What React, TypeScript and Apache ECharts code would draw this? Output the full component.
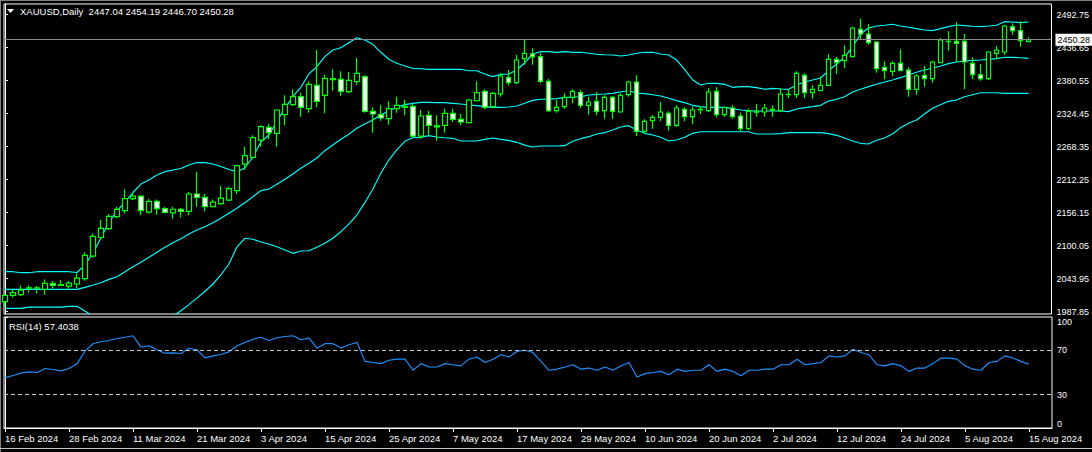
import React, { useEffect, useRef } from "react";
import * as echarts from "echarts";

const tradingDays: [string, number[]][] = [
  ["Feb", [16, 19, 20, 21, 22, 23, 26, 27, 28, 29]],
  ["Mar", [1, 4, 5, 6, 7, 8, 11, 12, 13, 14, 15, 18, 19, 20, 21, 22, 25, 26, 27, 28]],
  ["Apr", [1, 2, 3, 4, 5, 8, 9, 10, 11, 12, 15, 16, 17, 18, 19, 22, 23, 24, 25, 26, 29, 30]],
  ["May", [1, 2, 3, 6, 7, 8, 9, 10, 13, 14, 15, 16, 17, 20, 21, 22, 23, 24, 27, 28, 29, 30, 31]],
  ["Jun", [3, 4, 5, 6, 7, 10, 11, 12, 13, 14, 17, 18, 19, 20, 21, 24, 25, 26, 27, 28]],
  ["Jul", [1, 2, 3, 4, 5, 8, 9, 10, 11, 12, 15, 16, 17, 18, 19, 22, 23, 24, 25, 26, 29, 30, 31]],
  ["Aug", [1, 2, 5, 6, 7, 8, 9, 12, 13, 14, 15]],
];
const dates: string[] = tradingDays.flatMap(([m, ds]) => ds.map((d) => `${d} ${m} 2024`));

const opens = [
  2005, 2015.6, 2017, 2028, 2028, 2025.8, 2036, 2032.5, 2031.5, 2035,
  2044, 2082.5, 2114, 2129, 2149.4, 2159.6, 2180, 2184.5, 2157.3, 2175.4,
  2163, 2156, 2162, 2158.5, 2188, 2182.3, 2166.4, 2171.5, 2177.7, 2193.6,
  2238.9, 2250.3, 2279.7, 2301.3, 2291.1, 2322.8, 2339.8, 2353.4, 2333, 2372.7,
  2355.7, 2382.5, 2382.9, 2361.9, 2378.9, 2387.4, 2328.5, 2322.8, 2316, 2333,
  2337, 2337, 2286.5, 2321.7, 2304, 2304.7, 2325.1, 2314.9, 2309.2, 2346.6,
  2362.5, 2336.4, 2358, 2386.3, 2377.2, 2418, 2426, 2421.4, 2379.5, 2329.6,
  2336.4, 2352.3, 2360.2, 2338.7, 2345.5, 2329.6, 2352.3, 2327.3, 2356.8, 2378.3,
  2294.5, 2312.6, 2318.3, 2325.1, 2304.7, 2331.9, 2319.4, 2331, 2329.6, 2362.5,
  2322.8, 2334.1, 2320.5, 2299, 2328, 2327.3, 2330, 2329.6, 2357, 2356.8,
  2389.7, 2360.2, 2363.6, 2372.7, 2416.9, 2414.6, 2421.4, 2467.9, 2459.9, 2446.3,
  2403.3, 2396.5, 2410.1, 2398.7, 2365.9, 2389.7, 2384, 2411.2, 2447.5, 2447.5,
  2447.5, 2410.1, 2390.8, 2384, 2427, 2429.3, 2472.4, 2465.6, 2447.04,
];
const highs = [
  2016.5, 2024.7, 2032.6, 2032.6, 2031.5, 2042.8, 2040, 2041.7, 2040, 2053,
  2089, 2121, 2143.7, 2154, 2166.4, 2195.9, 2190, 2186, 2180, 2178.8,
  2166.4, 2166.4, 2164, 2191.3, 2225.3, 2188, 2178.8, 2201.5, 2200.4, 2237.8,
  2268.4, 2287.7, 2304.7, 2306.9, 2331.9, 2355.7, 2365.9, 2360.2, 2379.5, 2432.7,
  2390.8, 2399.9, 2396.5, 2395.3, 2419.1, 2389.7, 2335.3, 2338.7, 2345.5, 2353.4,
  2347.7, 2340.9, 2330.7, 2329.6, 2321.7, 2333, 2333, 2324, 2350, 2379.5,
  2365.9, 2361.3, 2393.1, 2398.7, 2424.8, 2450.9, 2435.6, 2427, 2384, 2347.7,
  2359.1, 2365.9, 2364.7, 2353.4, 2361.3, 2355.7, 2354.5, 2359.1, 2380.6, 2389.7,
  2314.9, 2321.7, 2344.3, 2328.5, 2338.7, 2335.3, 2336.4, 2337.5, 2368.1, 2369.3,
  2336.4, 2338.7, 2326.2, 2333, 2340.9, 2340.9, 2338.7, 2368.1, 2365.9, 2396.5,
  2393.1, 2372.7, 2387.4, 2425.9, 2421.4, 2440.7, 2472.4, 2486, 2476.9, 2447.5,
  2413.5, 2413.5, 2433.9, 2403.3, 2391.9, 2405.5, 2414.6, 2453.1, 2464.5, 2480.3,
  2459.9, 2420.3, 2408.9, 2430.5, 2439.5, 2475.8, 2478.1, 2481.5, 2454.19,
];
const lows = [
  1996.4, 2012.2, 2014.5, 2020, 2019, 2016.8, 2027, 2031.5, 2027, 2028,
  2040.6, 2080, 2109.7, 2126.7, 2147, 2155, 2177.7, 2151.7, 2155, 2152.8,
  2155, 2146, 2148, 2151.7, 2166.4, 2158.5, 2165.3, 2169.8, 2175.5, 2187.9,
  2228.7, 2246.9, 2268.4, 2280.9, 2268.4, 2304.7, 2337.5, 2319.4, 2326.2, 2335.3,
  2325.1, 2363.6, 2354.5, 2359.1, 2373.8, 2326.2, 2292.2, 2312.6, 2305.8, 2326.2,
  2321.7, 2284.3, 2282, 2288.8, 2278.6, 2292.2, 2310.3, 2304.7, 2308, 2345.5,
  2331.9, 2334.1, 2353.4, 2372.7, 2374.9, 2407.8, 2407.8, 2376.1, 2327.3, 2326.2,
  2333, 2342.1, 2334.1, 2322.8, 2321.7, 2316, 2316, 2326.2, 2353.4, 2286.5,
  2291.1, 2299, 2311.5, 2295.6, 2302.4, 2311.5, 2306.9, 2324, 2327.3, 2318.3,
  2319.4, 2316, 2294.5, 2296.7, 2319.4, 2319.4, 2319.4, 2327.3, 2351.1, 2351.1,
  2351.1, 2350, 2362.5, 2371.5, 2391.9, 2402.1, 2420.3, 2450.9, 2441.8, 2394.2,
  2382.9, 2388.5, 2396.5, 2353.4, 2356.8, 2370.4, 2377.2, 2410.1, 2431.6, 2412.3,
  2365.9, 2382.9, 2380.6, 2381.7, 2416.9, 2424.8, 2458.8, 2438.4, 2446.7,
];
const closes = [
  2015.6, 2020.2, 2024.7, 2028.5, 2028.5, 2036, 2032.6, 2034, 2036.6, 2045,
  2083.6, 2115.9, 2129.6, 2150, 2161.9, 2180, 2184.5, 2159.6, 2175.4, 2163,
  2156.7, 2162, 2158.5, 2188, 2182.3, 2166.4, 2174.3, 2181.1, 2197, 2236.1,
  2253.1, 2283.7, 2302.4, 2292.2, 2330.7, 2340.4, 2353.4, 2335.3, 2374.4, 2345.5,
  2384.6, 2384, 2362.5, 2381.2, 2393.1, 2328.5, 2323.9, 2317.1, 2333, 2338.7,
  2335, 2286.5, 2320.5, 2304.7, 2302, 2325.1, 2314.9, 2310.3, 2347.7, 2360.2,
  2335.3, 2359.1, 2388.5, 2377.2, 2415.7, 2427, 2421, 2379.5, 2329.6, 2335.3,
  2352.3, 2362.5, 2338.7, 2344.3, 2328.5, 2352.3, 2328.5, 2355.7, 2378.3, 2294.5,
  2311.5, 2318.3, 2327.3, 2304.7, 2334.1, 2319.4, 2330.7, 2332, 2361.3, 2322.8,
  2335.3, 2319.4, 2299, 2328.5, 2327, 2334.1, 2332, 2357.9, 2357.5, 2393.1,
  2360.2, 2365.9, 2372.7, 2416.9, 2411.2, 2423.6, 2470.1, 2459.9, 2445.2, 2401,
  2397.6, 2410.1, 2397.6, 2365.9, 2388.5, 2384, 2412.3, 2449.7, 2447, 2444,
  2412.3, 2390.8, 2384, 2429.3, 2432.7, 2473.5, 2465.6, 2448.6, 2450.28,
];
const bbUpper = [
  2055.9, 2055.9, 2054.2, 2054.2, 2055.9, 2055.9, 2055.9, 2055.9, 2055.9, 2054.5,
  2067.2, 2087.6, 2113.1, 2140.3, 2159, 2174.3, 2190.5, 2204.9, 2211.7, 2220.2,
  2225.9, 2228.8, 2231.3, 2237.2, 2241.5, 2241.2, 2239, 2234.7, 2229.6, 2225.9,
  2232.2, 2250.9, 2276.3, 2288.2, 2310.8, 2333.6, 2353.3, 2369.3, 2392, 2404.4,
  2421.4, 2432.7, 2436.6, 2445.2, 2453.6, 2449.7, 2442.4, 2428.8, 2416.9, 2410.1,
  2405.5, 2401.6, 2400.9, 2399.9, 2399.9, 2399.9, 2399.9, 2399.9, 2397.5, 2397.5,
  2392, 2387.4, 2391.3, 2392, 2398.7, 2411, 2425.9, 2429.9, 2429.9, 2428.8,
  2429.9, 2428.8, 2428.8, 2427.1, 2425.4, 2424.7, 2424.2, 2422.5, 2424.2, 2427.1,
  2428.8, 2428.8, 2425.9, 2424.2, 2415.7, 2399.9, 2381.7, 2373.2, 2376.1, 2376.1,
  2374.4, 2369.3, 2370.4, 2370.4, 2368.7, 2365.9, 2367.6, 2366.4, 2365.9, 2373.2,
  2378.3, 2381.7, 2385.1, 2397.5, 2408.9, 2420.3, 2438.4, 2459.9, 2470.1, 2473.5,
  2474.7, 2476.4, 2473.5, 2471.3, 2469, 2466.7, 2465.6, 2469, 2472.4, 2475.2,
  2474.1, 2473, 2472.4, 2473.5, 2474.7, 2480.9, 2480.3, 2479.2, 2480.3,
];
const bbMiddle = [
  2025.9, 2025.9, 2025.9, 2025.9, 2025.9, 2025.9, 2025.9, 2025.9, 2025.9, 2025.9,
  2029.3, 2033.2, 2037.2, 2042.9, 2047.4, 2055.9, 2064.4, 2071.8, 2080.3, 2088.8,
  2097.3, 2105.2, 2112, 2120, 2126.8, 2132.4, 2139.2, 2146.6, 2155.1, 2163.6,
  2173.2, 2183.4, 2193.6, 2196.5, 2204.4, 2212.9, 2221.9, 2231.6, 2240.2, 2249.2,
  2261.6, 2271.2, 2280.9, 2289.4, 2299.6, 2306.9, 2313.7, 2322.2, 2329.6, 2335.3,
  2339.8, 2342.1, 2343.8, 2343.8, 2343.2, 2343.2, 2342.1, 2340.9, 2339.2, 2338.1,
  2336.4, 2335.3, 2335.3, 2335.9, 2337.5, 2342.1, 2347.1, 2349, 2349, 2350,
  2351.7, 2352.8, 2353.3, 2356.2, 2357.4, 2357.9, 2359.1, 2361.8, 2363.5, 2359.6,
  2358.6, 2356.7, 2354.5, 2350.6, 2346.6, 2343.2, 2338.7, 2336.4, 2335.3, 2335.3,
  2335.3, 2333, 2330.7, 2329.6, 2329.1, 2329.1, 2329.1, 2329.1, 2327.9, 2332.4,
  2334.7, 2336.4, 2338.7, 2346.1, 2348.9, 2353.3, 2361.3, 2365.9, 2370.4, 2374.4,
  2378.3, 2381.7, 2385.7, 2390.2, 2394.8, 2398.7, 2401.6, 2405.5, 2409.5, 2412.3,
  2414.1, 2415.2, 2415.7, 2416.9, 2418, 2420.3, 2420.3, 2419.6, 2418.6,
];
const bbLower = [
  1993.6, 1993.6, 1993.6, 1995.8, 1995.8, 1995.8, 1995.8, 1995.8, 1997, 1997,
  1989.1, 1980, 1961, 1945, 1936, 1938, 1938, 1939, 1949, 1957,
  1969, 1980, 1989.5, 1999.9, 2011, 2022.2, 2035, 2050.3, 2069, 2097.8,
  2112.7, 2111, 2106.3, 2102.9, 2098.3, 2092.7, 2087.1, 2091, 2091.5, 2097.3,
  2104.1, 2112.7, 2123.9, 2136.9, 2152.2, 2173.2, 2196, 2223.1, 2245.7, 2262.8,
  2277.5, 2283.6, 2284.3, 2287.1, 2284.8, 2283.6, 2282.6, 2278.1, 2278.1, 2278.1,
  2280.9, 2283.1, 2280.9, 2279.2, 2275.8, 2271, 2267.9, 2269.6, 2269.6, 2269.6,
  2270.1, 2277.5, 2282, 2285.4, 2289.9, 2292.2, 2296.8, 2301.9, 2304.1, 2296.8,
  2291.1, 2288.2, 2284.3, 2278.1, 2279.7, 2284.3, 2291.1, 2293.8, 2293.8, 2293.8,
  2293.8, 2293.8, 2293.8, 2293.8, 2289.9, 2289.9, 2289.9, 2290.5, 2292.2, 2292.2,
  2292.2, 2292.2, 2292.2, 2290.5, 2287.7, 2283.1, 2278.1, 2274.1, 2272.9, 2279.2,
  2283.1, 2289.9, 2300.7, 2308.1, 2313.7, 2324, 2333.6, 2339.8, 2345.5, 2347.7,
  2353.3, 2356.7, 2360.1, 2360.1, 2360.1, 2359.1, 2359.1, 2359.1, 2359.1,
];
const rsi14 = [
  45.2, 47.3, 49.4, 50.6, 50, 53.6, 52.7, 51.5, 53.6, 57.8,
  69.2, 75.9, 77.7, 78.8, 80.6, 81.8, 83.1, 72.8, 74.1, 70.5,
  67.4, 67.7, 67.1, 71.9, 70.5, 63.2, 65, 66.2, 68.6, 74.1,
  77, 80, 81.8, 78.8, 81.3, 82.4, 83.1, 79.5, 81, 72,
  76, 76, 72, 75, 77, 60, 59, 58, 61, 62,
  62, 52, 58, 55, 55, 58, 57, 56, 62, 64,
  59, 62, 66, 64, 69, 70, 68, 60, 52, 53,
  55, 57, 53, 54, 52, 55, 52, 56, 59, 46,
  49, 50, 51, 48, 53, 51, 52, 52, 57, 51,
  53, 51, 47, 52, 52, 53, 53, 57, 57, 62,
  57, 58, 59, 65, 64, 65, 71, 68, 66, 57,
  56, 58, 56, 51, 54, 54, 58, 63, 63, 62,
  56, 53, 52, 59, 60, 65, 63, 60, 57.4038,
];

const priceTicks = [1987.85, 2043.95, 2100.05, 2156.15, 2212.25, 2268.35, 2324.45, 2380.55, 2436.65, 2492.75];
const dateTickIdx = [0, 8, 16, 24, 32, 40, 48, 56, 64, 72, 80, 88, 96, 104, 112, 120, 128];
const rsiTicks = [0, 30, 70, 100];
const rsiLevels = [70, 30];
const symbolName = "XAUUSD,Daily";
const lastBar = { open: 2447.04, high: 2454.19, low: 2446.7, close: 2450.28 };
const rsiLabel = "RSI(14) 57.4038";

const FONT = "Liberation Sans";
const X_MIN = -0.125;
const X_MAX = 130.875;
const CYAN = "#00ffff";

export default function App() {
  const ref = useRef<HTMLDivElement>(null);
  useEffect(() => {
    document.body.style.margin = "0";
    document.body.style.background = "#000";
    if (!ref.current) return;
    const chart = echarts.init(ref.current, null, { renderer: "svg" });
    const idx = dates.map((_, i) => i);
    const axisWhite = { color: "#ffffff", width: 1 };
    const bandLine = (vals: number[]) => ({
      type: "line", xAxisIndex: 0, yAxisIndex: 0, data: idx.map((i) => [i, vals[i]]),
      symbol: "none", lineStyle: { color: CYAN, width: 1.15 }, z: 2, silent: true,
    });
    const option: any = {
      animation: false,
      backgroundColor: "#000000",
      textStyle: { fontFamily: FONT },
      grid: [
        { left: 4, top: 4, width: 1048, height: 310, show: true, borderColor: "#ffffff", borderWidth: 1, backgroundColor: "#000000" },
        { left: 4, top: 317, width: 1048, height: 111, show: true, borderColor: "#ffffff", borderWidth: 1, backgroundColor: "#000000" },
      ],
      xAxis: [
        { type: "value", gridIndex: 0, min: X_MIN, max: X_MAX, show: false },
        {
          type: "value", gridIndex: 1, min: X_MIN, max: X_MAX, position: "bottom",
          axisLine: { show: true, lineStyle: axisWhite },
          splitLine: { show: false },
          axisTick: { show: true, customValues: dateTickIdx, length: 4, lineStyle: axisWhite },
          axisLabel: {
            customValues: dateTickIdx,
            formatter: (v: number) => dates[Math.round(v)] ?? "",
            color: "#ffffff", fontSize: 9.5, fontFamily: FONT, align: "left", margin: 5,
          },
        },
      ],
      yAxis: [
        {
          type: "value", gridIndex: 0, position: "right", min: 1984, max: 2510.9,
          splitLine: { show: false },
          axisLine: { show: true, lineStyle: axisWhite },
          axisTick: { show: true, customValues: priceTicks, length: 3, lineStyle: axisWhite },
          axisLabel: {
            customValues: priceTicks, formatter: (v: number) => v.toFixed(2),
            color: "#ffffff", fontSize: 9, fontFamily: FONT, margin: 5,
          },
        },
        {
          type: "value", gridIndex: 1, position: "right", min: 0, max: 100,
          splitLine: { show: false },
          axisLine: { show: true, lineStyle: axisWhite },
          axisTick: { show: true, customValues: rsiTicks, length: 3, lineStyle: axisWhite },
          axisLabel: {
            customValues: rsiTicks, formatter: (v: number) => String(Math.round(v)),
            color: "#ffffff", fontSize: 9, fontFamily: FONT, margin: 5,
            verticalAlignMinLabel: "bottom", verticalAlignMaxLabel: "top",
          },
        },
      ],
      series: [
        bandLine(bbUpper),
        bandLine(bbMiddle),
        bandLine(bbLower),
        {
          type: "candlestick", xAxisIndex: 0, yAxisIndex: 0,
          encode: { x: 0, y: [1, 2, 3, 4] },
          data: idx.map((i) => [i, opens[i], closes[i], lows[i], highs[i]]),
          barWidth: 5, z: 3, silent: true,
          itemStyle: { color: "#000000", color0: "#ffffff", borderColor: "#00ff00", borderColor0: "#00ff00", borderWidth: 1.2 },
          markLine: {
            silent: true, symbol: ["none", "none"],
            lineStyle: { color: "#8c8c8c", width: 1, type: "solid" },
            label: {
              show: true, position: "end", formatter: lastBar.close.toFixed(2),
              color: "#000000", backgroundColor: "#ffffff", padding: [2, 2, 1, 2],
              fontSize: 9, fontFamily: FONT, distance: 4,
            },
            data: [{ yAxis: lastBar.close }],
          },
        },
        {
          type: "line", xAxisIndex: 1, yAxisIndex: 1, data: idx.map((i) => [i, rsi14[i]]),
          symbol: "none", lineStyle: { color: "#1e90ff", width: 1.15 }, silent: true,
          markLine: {
            silent: true, symbol: ["none", "none"],
            lineStyle: { color: "#c8c8c8", width: 1, type: [4, 3] },
            label: { show: false },
            data: rsiLevels.map((v) => ({ yAxis: v })),
          },
        },
      ],
      graphic: [
        { type: "line", shape: { x1: 0.5, y1: 0, x2: 0.5, y2: 452 }, style: { stroke: "#808080", lineWidth: 1 } },
        { type: "line", shape: { x1: 0, y1: 0.5, x2: 1092, y2: 0.5 }, style: { stroke: "#808080", lineWidth: 1 } },
        { type: "line", shape: { x1: 0, y1: 448.5, x2: 1092, y2: 448.5 }, style: { stroke: "#c0c0c0", lineWidth: 1 } },
        { type: "polygon", shape: { points: [[7, 9], [14, 9], [10.5, 13]] }, style: { fill: "#ffffff" } },
        {
          type: "text", left: 20, top: 6,
          style: {
            text: `${symbolName}  ${lastBar.open.toFixed(2)} ${lastBar.high.toFixed(2)} ${lastBar.low.toFixed(2)} ${lastBar.close.toFixed(2)}`,
            fill: "#ffffff", font: `9.5px "${FONT}"`,
          },
        },
        { type: "text", left: 9, top: 321, style: { text: rsiLabel, fill: "#ffffff", font: `9.5px "${FONT}"` } },
      ],
    };
    chart.setOption(option);
    return () => chart.dispose();
  }, []);
  return <div ref={ref} style={{ width: 1092, height: 452, background: "#000" }} />;
}
